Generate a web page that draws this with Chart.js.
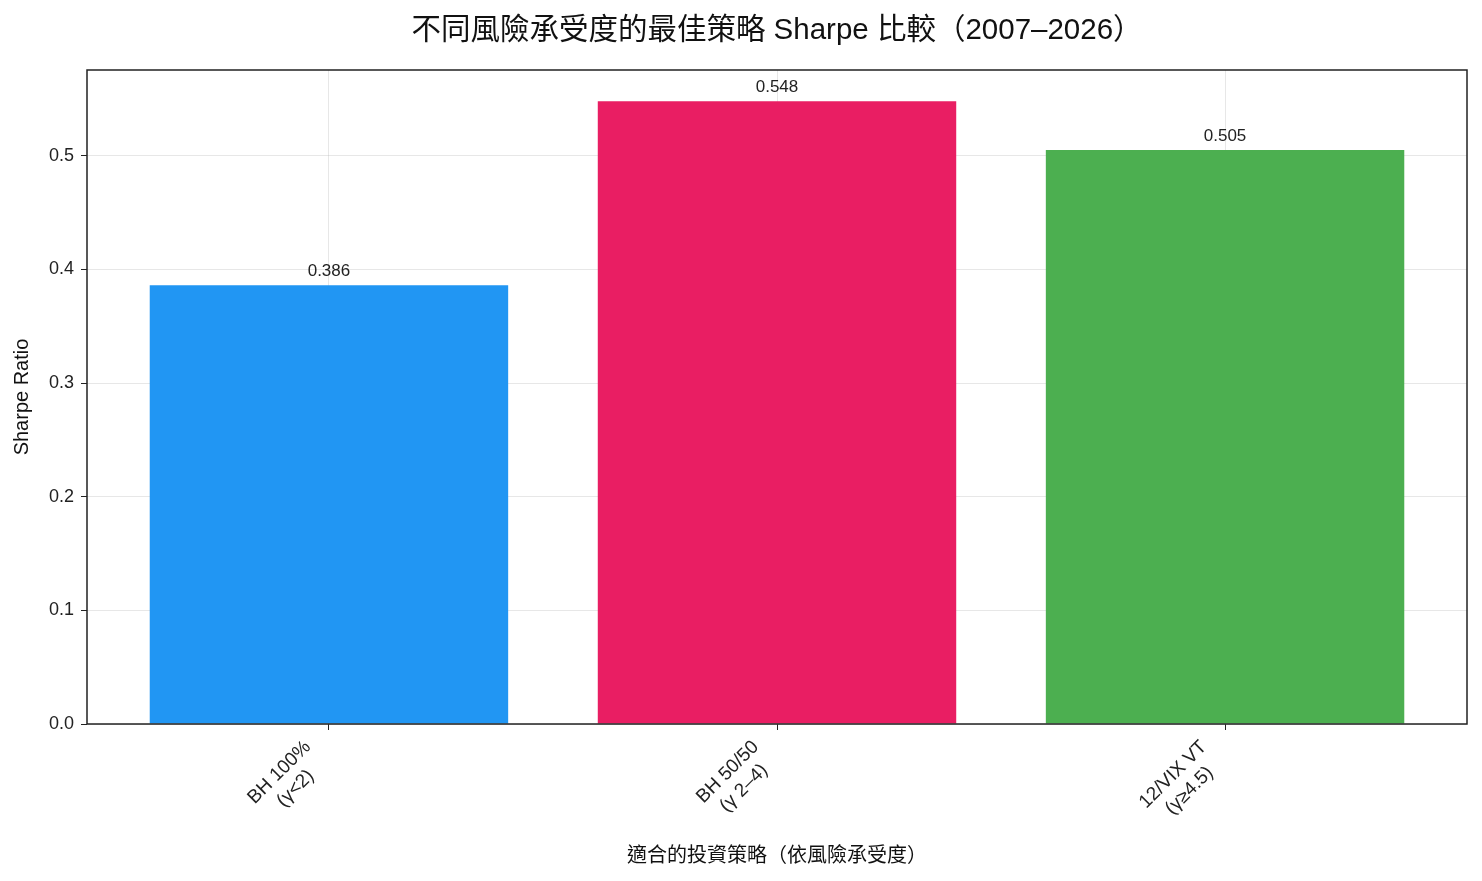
<!DOCTYPE html>
<html>
<head>
<meta charset="utf-8">
<script src="https://cdn.jsdelivr.net/npm/chart.js@4/dist/chart.umd.min.js"></script>
<style>
  html, body { margin: 0; padding: 0; background: #fff; }
  #wrap { width: 1482px; height: 881px; }
</style>
</head>
<body>
<div id="wrap"><canvas id="sharpeChart"></canvas></div>
<script>
// data
const strategies = [['BH 100%', '(γ<2)'], ['BH 50/50', '(γ 2–4)'], ['12/VIX VT', '(γ≥4.5)']];
const sharpeValues = [0.386, 0.548, 0.505];
const barColors = ['#2196F3', '#E91E63', '#4CAF50'];
const yTicks = [0.0, 0.1, 0.2, 0.3, 0.4, 0.5];
const chartTitle = '不同風險承受度的最佳策略 Sharpe 比較（2007–2026）';

const FONT = '"Liberation Sans", "Noto Sans CJK TC", sans-serif';

// title, value labels, rotated x labels and the axes frame
const extrasPlugin = {
    id: 'extras',
    afterDatasetsDraw(chart) {
        const ctx = chart.ctx;
        const meta = chart.getDatasetMeta(0);
        ctx.save();
        ctx.fillStyle = '#222';
        ctx.font = '17px ' + FONT;
        ctx.textAlign = 'center';
        ctx.textBaseline = 'bottom';
        meta.data.forEach((bar, i) => {
            ctx.fillText(sharpeValues[i].toFixed(3), bar.x, bar.y - 5);
        });
        ctx.restore();
    },
    afterDraw(chart) {
        const a = chart.chartArea;
        const ctx = chart.ctx;
        const xScale = chart.scales.x;
        ctx.save();

        // title centred over the plot area
        ctx.fillStyle = '#111';
        ctx.font = '29.5px ' + FONT;
        ctx.textAlign = 'center';
        ctx.textBaseline = 'middle';
        ctx.fillText(chartTitle, (a.left + a.right) / 2, 31);

        // x tick labels, rotated 45deg, right edge of the block on the tick
        const size = 19, lh = size * 1.2, c = Math.SQRT1_2;
        ctx.font = size + 'px ' + FONT;
        ctx.fillStyle = '#222';
        strategies.forEach((lines, i) => {
            const tx = xScale.getPixelForValue(i) + 3;
            const W = Math.max(...lines.map(l => ctx.measureText(l).width));
            const H = lines.length * lh;
            const ox = tx - c * (W + H);
            const oy = a.bottom + 12 + c * W;
            ctx.save();
            ctx.translate(ox, oy);
            ctx.rotate(-Math.PI / 4);
            ctx.textAlign = 'center';
            ctx.textBaseline = 'middle';
            lines.forEach((l, j) => ctx.fillText(l, W / 2, j * lh + lh / 2));
            ctx.restore();
        });

        ctx.strokeStyle = '#222';
        ctx.lineWidth = 1.5;
        ctx.strokeRect(a.left, a.top, a.right - a.left, a.bottom - a.top);
        ctx.restore();
    }
};

const ctx = document.getElementById('sharpeChart').getContext('2d');
const chart = new Chart(ctx, {
    type: 'bar',
    data: {
        datasets: [{
            data: sharpeValues.map((v, i) => ({ x: i, y: v })),
            backgroundColor: barColors,
            borderWidth: 0,
            categoryPercentage: 1,
            barPercentage: 0.8
        }]
    },
    options: {
        responsive: true,
        maintainAspectRatio: false,
        animation: false,
        layout: { padding: { left: 0, right: 15, top: 70, bottom: 0 } },
        plugins: {
            legend: { display: false },
            tooltip: { enabled: false },
            title: { display: false }
        },
        scales: {
            x: {
                type: 'linear',
                min: -0.54,
                max: 2.54,
                offset: false,
                z: 1,
                afterBuildTicks: function (scale) {
                    scale.ticks = strategies.map((s, i) => ({ value: i }));
                },
                afterFit: function (scale) { scale.height = 157; },
                ticks: { display: false },
                grid: {
                    offset: false,
                    color: 'rgba(176,176,176,0.3)',
                    tickColor: '#222',
                    tickLength: 6,
                    lineWidth: 1
                },
                border: { display: false },
                title: {
                    display: true,
                    text: '適合的投資策略（依風險承受度）',
                    color: '#111',
                    font: { family: FONT, size: 20 },
                    padding: { top: 0, bottom: 13 }
                }
            },
            y: {
                min: 0,
                max: 0.5754,
                z: 1,
                afterBuildTicks: function (scale) {
                    scale.ticks = yTicks.map(v => ({ value: v }));
                },
                afterFit: function (scale) { scale.width = 87; },
                ticks: {
                    color: '#222',
                    padding: 7,
                    font: { family: FONT, size: 18 },
                    callback: function (value) { return value.toFixed(1); }
                },
                grid: {
                    color: 'rgba(176,176,176,0.3)',
                    tickColor: '#222',
                    tickLength: 6,
                    lineWidth: 1
                },
                border: { display: false },
                title: {
                    display: true,
                    text: 'Sharpe Ratio',
                    color: '#111',
                    font: { family: FONT, size: 20 },
                    padding: { top: 10, bottom: 0 }
                }
            }
        }
    },
    plugins: [extrasPlugin]
});
</script>
</body>
</html>
